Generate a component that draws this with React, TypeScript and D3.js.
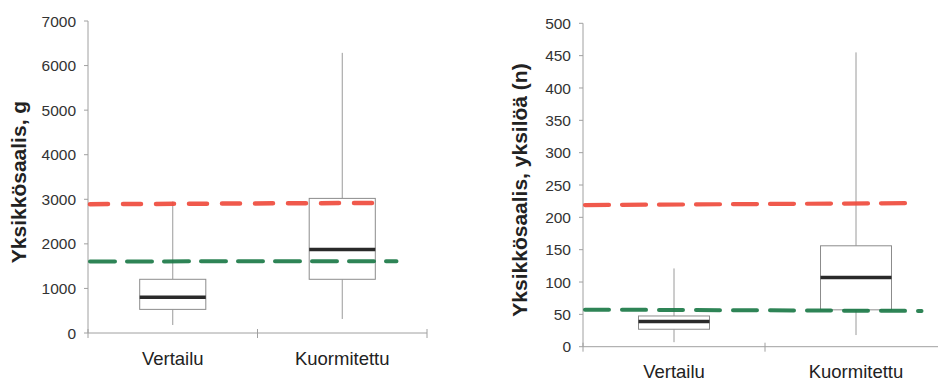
import React from 'react';
import * as d3 from 'd3';

// categories and box statistics
const categories = ["Vertailu", "Kuormitettu"];

const weightMin = [180, 315];
const weightQ1 = [530, 1205];
const weightMedian = [800, 1875];
const weightQ3 = [1205, 3020];
const weightMax = [2950, 6285];
const weightTicks = [0, 1000, 2000, 3000, 4000, 5000, 6000, 7000];
const weightRed = [2890, 2920];
const weightGreen = [1605, 1612];

const countMin = [7, 18];
const countQ1 = [27, 57];
const countMedian = [39, 107];
const countQ3 = [47.5, 156];
const countMax = [121, 455];
const countTicks = [0, 50, 100, 150, 200, 250, 300, 350, 400, 450, 500];
const countRed = [219, 222];
const countGreen = [57.3, 55.3];

type RefLine = { values: number[]; color: string; dash: string; width: number; endFrac: number };

type PanelProps = {
  x0: number;
  x1: number;
  yTop: number;
  yBottom: number;
  ticks: number[];
  min: number[];
  q1: number[];
  median: number[];
  q3: number[];
  max: number[];
  lines: RefLine[];
  label: string;
  labelX: number;
  catBaseline: number;
};

const RED = "#ef4b3d";
const GREEN = "#1c7a48";

const BoxPanel = (p: PanelProps) => {
  const yMax = p.ticks[p.ticks.length - 1];
  const y = d3.scaleLinear().domain([0, yMax]).range([p.yBottom, p.yTop]);
  const x = d3.scaleBand().domain(categories).range([p.x0, p.x1]).padding(0);
  const bw = x.bandwidth();
  const boxW = bw * 0.39;
  const line = d3.line<[number, number]>().x(d => d[0]).y(d => d[1]);

  return (
    <g>
      {/* y axis */}
      <line x1={p.x0} x2={p.x0} y1={y(0)} y2={y(yMax)} stroke="#a0a0a0" strokeWidth={1} />
      {p.ticks.map(t => (
        <g key={t}>
          <line x1={p.x0 - 4} x2={p.x0} y1={y(t)} y2={y(t)} stroke="#a0a0a0" />
          <text x={p.x0 - 12} y={y(t)} dy="0.36em" textAnchor="end" fontSize={15.5}
            fill="#333" fontFamily="Liberation Sans, Arial, sans-serif">{t}</text>
        </g>
      ))}
      {/* x axis */}
      <line x1={p.x0} x2={p.x1} y1={y(0)} y2={y(0)} stroke="#a0a0a0" strokeWidth={1} />
      {[p.x0, ...categories.map(c => (x(c) as number) + bw)].map((tx, i) => (
        <line key={i} x1={tx} x2={tx} y1={y(0) - 4} y2={y(0) + 5} stroke="#a0a0a0" />
      ))}
      {categories.map(c => (
        <text key={c} x={(x(c) as number) + bw / 2} y={p.catBaseline} textAnchor="middle"
          fontSize={18.5} fill="#222" fontFamily="Liberation Sans, Arial, sans-serif">{c}</text>
      ))}
      {/* boxes */}
      {categories.map((c, i) => {
        const cx = (x(c) as number) + bw / 2;
        return (
          <g key={c}>
            <line x1={cx} x2={cx} y1={y(p.min[i])} y2={y(p.q1[i])} stroke="#9a9a9a" />
            <line x1={cx} x2={cx} y1={y(p.q3[i])} y2={y(p.max[i])} stroke="#9a9a9a" />
            <rect x={cx - boxW / 2} y={y(p.q3[i])} width={boxW} height={y(p.q1[i]) - y(p.q3[i])}
              fill="white" stroke="#8c8c8c" strokeWidth={1} />
            <line x1={cx - boxW / 2} x2={cx + boxW / 2} y1={y(p.median[i])} y2={y(p.median[i])}
              stroke="#2a2a2a" strokeWidth={3.5} />
          </g>
        );
      })}
      {/* hand drawn reference lines */}
      {p.lines.map((l, i) => {
        const xa = p.x0 + 2;
        const xb = (x(categories[1]) as number) + bw / 2 + bw * l.endFrac;
        return (
          <path key={i} d={line([[xa, y(l.values[0])], [xb, y(l.values[1])]]) || ""}
            fill="none" stroke={l.color} strokeWidth={l.width} strokeDasharray={l.dash}
            strokeLinecap="round" opacity={0.92} />
        );
      })}
      <text transform={`translate(${p.labelX},${(y(0) + y(yMax)) / 2 + 5}) rotate(-90)`}
        textAnchor="middle" fontSize={21} fontWeight="bold" fill="#222"
        fontFamily="Liberation Sans, Arial, sans-serif">{p.label}</text>
    </g>
  );
};

export default function App() {
  return (
    <svg width={938} height={383} style={{ position: 'fixed', left: 0, top: 0, background: 'white' }}>
      <rect width={938} height={383} fill="white" />
      <BoxPanel x0={88} x1={427} yTop={21} yBottom={333} ticks={weightTicks}
        min={weightMin} q1={weightQ1} median={weightMedian} q3={weightQ3} max={weightMax}
        lines={[
          { values: weightRed, color: RED, dash: "18 15", width: 4.5, endFrac: 0.245 },
          { values: weightGreen, color: GREEN, dash: "25 12", width: 4, endFrac: 0.32 },
        ]}
        label="Yksikkösaalis, g" labelX={26} catBaseline={365} />
      <BoxPanel x0={583} x1={947} yTop={23.3} yBottom={346.7} ticks={countTicks}
        min={countMin} q1={countQ1} median={countMedian} q3={countQ3} max={countMax}
        lines={[
          { values: countRed, color: RED, dash: "24 13", width: 4.2, endFrac: 0.335 },
          { values: countGreen, color: GREEN, dash: "24 13", width: 4, endFrac: 0.36 },
        ]}
        label="Yksikkösaalis, yksilöä (n)" labelX={527} catBaseline={378} />
    </svg>
  );
}
